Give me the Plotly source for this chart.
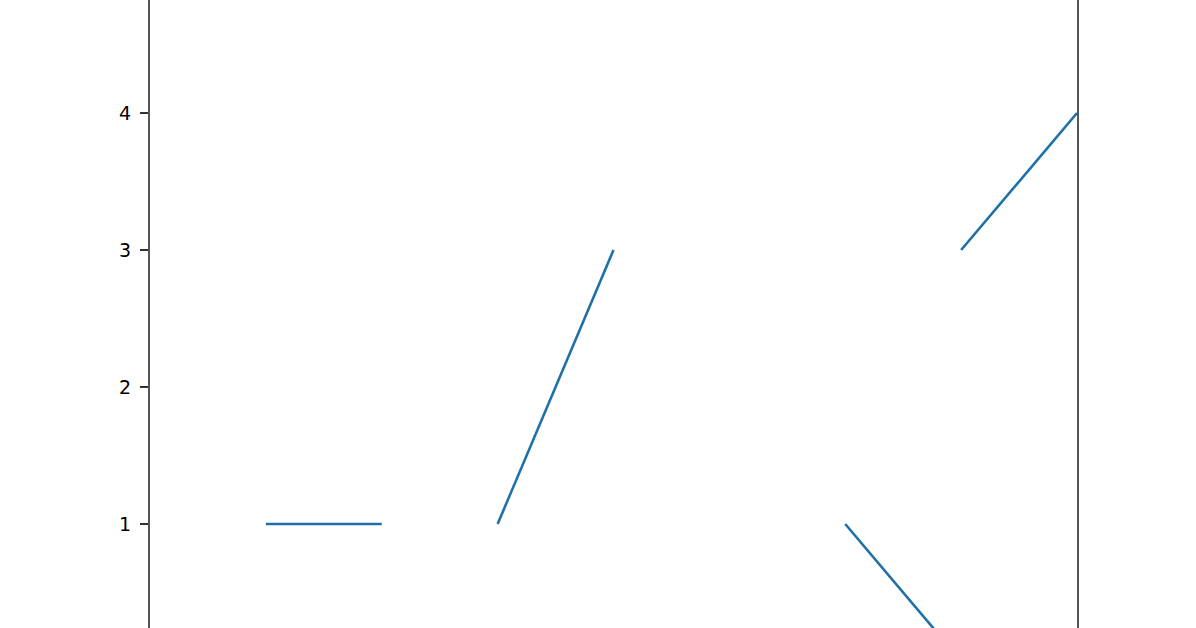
import plotly.graph_objects as go

# line with gaps (None breaks the line)
x_vals = [1, 2, None, 3, 4, None, 6, 7, None, 7, 8]
y_vals = [1, 1, None, 1, 3, None, 1, 0, None, 3, 4]
y_ticks = [1, 2, 3, 4]

fig = go.Figure()
fig.add_trace(go.Scatter(
    x=x_vals, y=y_vals, mode="lines",
    line=dict(color="#1f6fa8", width=2.6),
    connectgaps=False, showlegend=False,
))

fig.update_layout(
    width=1196, height=628,
    margin=dict(l=150, r=119, t=0, b=0),
    paper_bgcolor="white", plot_bgcolor="white",
    font=dict(family="DejaVu Sans", size=19, color="black"),
)
fig.update_xaxes(
    range=[0, 8], showgrid=False, zeroline=False,
    showticklabels=False, showline=False,
)
fig.update_yaxes(
    range=[0.241, 4.825], showgrid=False, zeroline=False,
    tickvals=y_ticks, ticks="outside", ticklen=8, tickwidth=2,
    tickcolor="#333", ticklabelstandoff=5, showline=True, mirror=True,
    linecolor="#555", linewidth=2,
)

# drop the default 8px body margin so the chart fills the window
fig.write_html("out.html", config={"displayModeBar": False},
               post_script="document.body.style.margin='0';")
